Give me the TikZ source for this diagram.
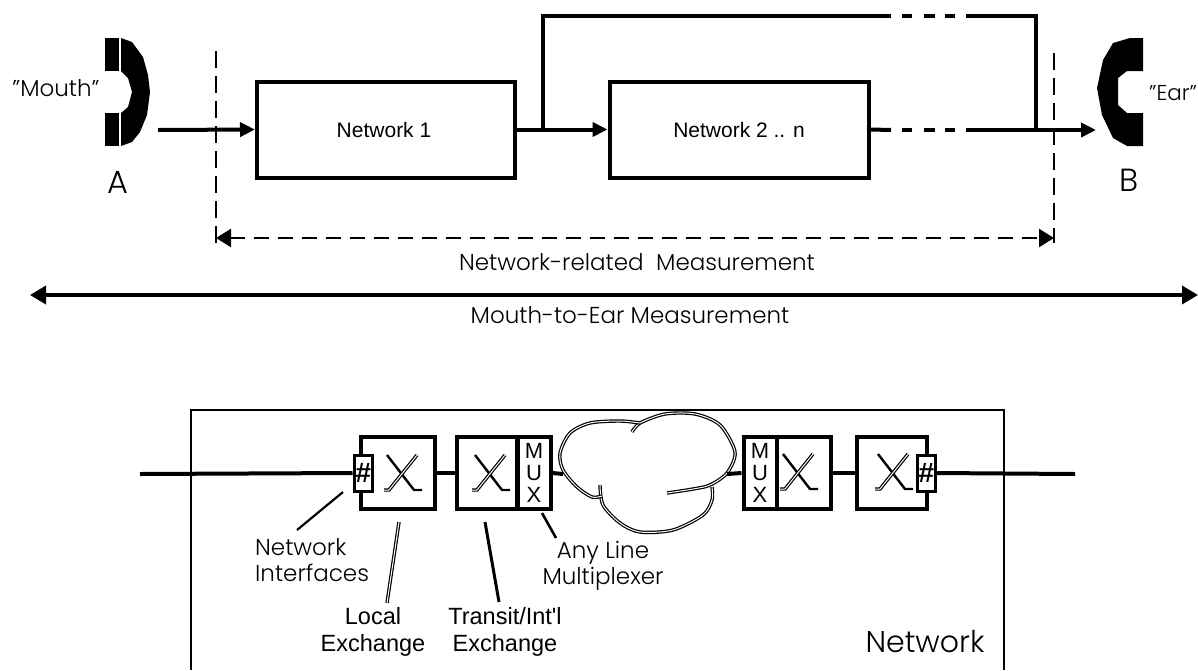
\documentclass[tikz,border=0pt]{standalone}
\usepackage{fontspec}
\setmainfont{Poppins Light}
\newfontfamily\arialfont{Liberation Sans}
\usetikzlibrary{arrows.meta}
\tikzset{
  crossmark/.pic={
    \draw[line width=2.4pt] (-15,-18) -- (12,17) -- (20,17);
    \draw[line width=1.2pt,double,double distance=1pt] (15,-18) -- (-13,17) -- (-18,17);
  }
}
\begin{document}
\begin{tikzpicture}
[x=1pt,y=-1pt,
  every node/.style={inner sep=0pt,text=black},
  netbox/.style={draw,line width=4pt,font=\arialfont\fontsize{21}{24}\selectfont},
  swbox/.style={draw,line width=4pt,minimum height=72pt},
  muxbox/.style={draw,line width=4pt,minimum height=72pt,minimum width=33pt,align=center,font=\arialfont\fontsize{22}{22}\selectfont},
  hashbox/.style={draw,line width=3pt,fill=white,minimum width=18pt,minimum height=36pt,font=\arialfont\bfseries\itshape\fontsize{28}{28}\selectfont},
  bigtext/.style={font=\fontsize{23}{26}\selectfont,align=center},
  armtext/.style={font=\arialfont\fontsize{23.5}{26.5}\selectfont,align=center},
  flow/.style={line width=4pt},
  tip/.style={-{Triangle[length=15pt,width=14pt]}},
  dashline/.style={line width=2.4pt,dash pattern=on 17pt off 8pt},
  leader/.style={line width=2.2pt},
  cloudline/.style={line width=1.2pt,double,double distance=1pt}]
\useasboundingbox (0,0) rectangle (1198,670);

% telephones
\fill (105,38) rectangle (119,71);
\fill (105,113) rectangle (119,146);
\fill (121,38) -- (132,42) -- (143,57) -- (148,75) -- (150,92) -- (147,115) -- (140,132)
  -- (132,142) -- (121,146) -- (121,113) -- (128,107) -- (132,92) -- (128,78) -- (121,71) -- cycle;
\fill (1143,38) -- (1130,38) -- (1113,43) -- (1103,60) -- (1097,88) -- (1102,115) -- (1113,138)
  -- (1127,146) -- (1143,146) -- (1143,113) -- (1127,113) -- (1118,105) -- (1118,78) -- (1127,71)
  -- (1143,71) -- cycle;
\node[bigtext] (mouth) at (56,88) {"Mouth"};
\node[anchor=west,font=\fontsize{21.5}{26}\selectfont] (ear) at (1149,93) {"Ear"};
\node[font=\fontsize{32}{36}\selectfont] (phonea) at (118,182) {A};
\node[font=\fontsize{32}{36}\selectfont] (phoneb) at (1129,180) {B};

% upper chain
\node[netbox,minimum width=258pt,minimum height=96pt] (net1) at (386,129.5) {\kern-4pt Network 1};
\node[netbox,minimum width=259pt,minimum height=96pt] (net2) at (739,129.5) {Network 2 .. n};
\coordinate (src) at (158,130);
\coordinate (sink) at (1096,130);
\coordinate (branch) at (543,130);
\coordinate (topl) at (543,16);
\coordinate (topr) at (1036,16);
\coordinate (join) at (1036,130);
\draw[flow,tip] (src) -- (net1.west);
\draw[flow,tip] (net1.east) -- (net2.west);
\draw[flow] (net2.east) -- (891,130);
\draw[flow] (902,130) -- (912,130) (924,130) -- (935,130) (945,130) -- (955,130);
\draw[flow,tip] (966,130) -- (sink);
\draw[line width=3.6pt] (branch) -- (topl) -- (891,16);
\draw[line width=3.6pt] (902,16) -- (912,16) (924,16) -- (935,16) (945,16) -- (955,16);
\draw[line width=3.6pt] (966,16) -- (topr) -- (join);

% measurement marks
\coordinate (lefta) at (216,51);
\coordinate (leftb) at (216,243);
\coordinate (righta) at (1054,53);
\coordinate (rightb) at (1054,243);
\draw[dashline] (lefta) -- (leftb);
\draw[dashline] (righta) -- (rightb);
\draw[line width=2.2pt,dash pattern=on 15pt off 9pt,{Triangle[length=15pt,width=18pt]}-{Triangle[length=15pt,width=18pt]}] (leftb |- 0,238) -- (rightb |- 0,238);
\node[bigtext] (netmeas) at (637,262) {Network-related\ \ Measurement};
\coordinate (longa) at (30,295);
\coordinate (longb) at (1198,295);
\draw[line width=3.6pt,{Triangle[length=16pt,width=18pt]}-{Triangle[length=16pt,width=18pt]}] (longa) -- (longb);
\node[bigtext] (earmeas) at (630,315) {Mouth-to-Ear Measurement};

% network frame
\draw[line width=2pt] (191,670) |- (1004,410) -- (1004,670);
\node[font=\fontsize{30}{34}\selectfont] (netlabel) at (925,642) {Network};

% exchanges
\node[swbox,minimum width=74pt] (local) at (398,473) {};
\node[swbox,minimum width=60pt] (transit) at (487,473) {};
\node[muxbox] (muxa) at (534,473) {M\\U\\X};
\node[muxbox] (muxb) at (760,473) {M\\U\\X};
\node[swbox,minimum width=54pt] (trunk) at (804,473) {};
\node[swbox,minimum width=70pt] (remote) at (892,473) {};
\node[hashbox] (hasha) at (363,473) {\#};
\node[hashbox] (hashb) at (926,473) {\#};
\pic at (402,473) {crossmark};
\pic at (490,473) {crossmark};
\pic at (798,472) {crossmark};
\pic at (893,472) {crossmark};

% cloud
\coordinate (cloudw) at (563,474);
\coordinate (cloude) at (727,474);
\draw[cloudline] plot[smooth,tension=.5] coordinates {(632,432) (640,423) (665,414) (695,414) (720,425) (735,452)
  (727,473) (710,485) (693,489) (667,493)};
\draw[cloudline] plot[smooth,tension=.5] coordinates {(712,487) (712,500) (703,515) (673,530) (640,532) (620,523)
  (603,505) (600,485)};
\draw[cloudline] plot[smooth,tension=.5] coordinates {(602,496) (592,497) (577,487) (563,470) (560,453) (570,433)
  (590,423) (620,421) (640,423)};

% line through the exchanges
\coordinate (linel) at (140,474);
\coordinate (liner) at (1075,474);
\draw[flow] (linel) -- (hasha.west);
\draw[flow] (local.east) -- (transit.west);
\draw[flow] (muxa.east) -- (cloudw);
\draw[flow] (cloude) -- (muxb.west);
\draw[flow] (trunk.east) -- (remote.west);
\draw[flow] (hashb.east) -- (liner);

% labels and their leaders
\node[bigtext,align=left,anchor=west] (ifaces) at (255,560) {Network\\Interfaces};
\node[armtext] (localtxt) at (373,632) {Local\\Exchange};
\node[armtext] (transittxt) at (505,632) {Transit/Int'l\\Exchange};
\node[bigtext] (anyline) at (603,566) {Any Line\\Multiplexer};
\coordinate (ifacea) at (297,530);
\coordinate (ifaceb) at (343,492);
\coordinate (locala) at (387,603);
\coordinate (localb) at (399,522);
\coordinate (transita) at (485,522);
\coordinate (transitb) at (499,602);
\coordinate (muxc) at (542,513);
\coordinate (muxd) at (556,538);
\draw[leader] (ifacea) -- (ifaceb);
\draw[cloudline] (locala) -- (localb);
\draw[line width=3pt] (transita) -- (transitb);
\draw[line width=2.6pt] (muxc) -- (muxd);
\end{tikzpicture}
\end{document}
